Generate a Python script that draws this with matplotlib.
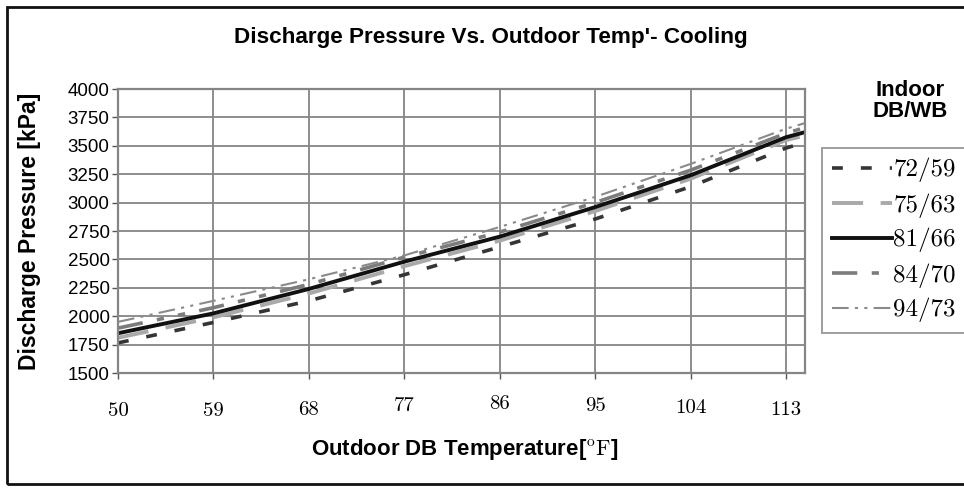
import matplotlib
matplotlib.use("Agg")
import matplotlib.pyplot as plt
from matplotlib.patches import Rectangle

# Outdoor DB temperature [F] and discharge pressure [kPa] per indoor DB/WB condition
temps = [50, 59, 68, 77, 86, 95, 104, 113, 114.8]
p_72_59 = [1765, 1945, 2135, 2365, 2610, 2855, 3140, 3480, 3530]
p_75_63 = [1810, 1990, 2200, 2440, 2665, 2925, 3210, 3550, 3590]
p_81_66 = [1850, 2025, 2240, 2480, 2700, 2960, 3240, 3575, 3620]
p_84_70 = [1895, 2075, 2280, 2520, 2740, 3000, 3285, 3610, 3660]
p_94_73 = [1950, 2135, 2325, 2535, 2785, 3050, 3340, 3650, 3700]

x_ticks = [50, 59, 68, 77, 86, 95, 104, 113]
y_ticks = [1500, 1750, 2000, 2250, 2500, 2750, 3000, 3250, 3500, 3750, 4000]
labels = ["72/59", "75/63", "81/66", "84/70", "94/73"]

plt.rcParams['mathtext.fontset'] = 'cm'
sans = ['Liberation Sans', 'DejaVu Sans']
serif = ['cmr10', 'DejaVu Serif']

W, H = 964, 488
fig = plt.figure(figsize=(W / 100, H / 100), dpi=100)
ax = fig.add_axes([118 / W, 1 - 373 / H, 687 / W, 284 / H])

styles = [
    dict(color='#353535', lw=2.6, dashes=(3.0, 5.0)),
    dict(color='#a9a9a9', lw=2.8, dashes=(8.0, 4.5)),
    dict(color='#111111', lw=2.8, linestyle='-'),
    dict(color='#7c7c7c', lw=2.6, dashes=(7.0, 4.0, 2.0, 4.0, 2.0, 4.0)),
    dict(color='#8a8a8a', lw=1.5, dashes=(8.0, 3.0, 1.5, 3.0, 1.5, 3.0)),
]
series = [p_72_59, p_75_63, p_81_66, p_84_70, p_94_73]
for vals, lab, st in zip(series, labels, styles):
    ax.plot(temps, vals, label=lab, **st)

ax.set_xlim(50, 114.8)
ax.set_ylim(1500, 4000)
ax.set_xticks(x_ticks)
ax.set_xticklabels([str(t) for t in x_ticks], family=serif, fontsize=15)
ax.set_yticks(y_ticks)
ax.set_yticklabels([str(v) for v in y_ticks], family=sans, fontsize=13.5)
ax.grid(True, color='#858585', lw=1.3)
ax.set_axisbelow(True)
for sp in ax.spines.values():
    sp.set_color('#858585')
    sp.set_linewidth(1.6)
ax.tick_params(axis='both', direction='out', length=4, width=1, color='#555555')
ax.tick_params(axis='y', pad=2)

# scanned labels sit slightly staggered
x_pads = [17, 17, 16, 13, 12, 13, 15, 16]
for tk, pd in zip(ax.xaxis.get_major_ticks(), x_pads):
    tk.set_pad(pd)

ax.set_ylabel("Discharge Pressure [kPa]", family=sans, fontsize=16.5,
              fontweight='bold', va='center')
ax.yaxis.set_label_coords((30 - 118) / 687, 0.5)
ax.set_xlabel(r"Outdoor DB Temperature[$^{\mathrm{o}}\mathrm{F}$]", family=sans,
              fontsize=16, fontweight='bold', va='center')
ax.xaxis.set_label_coords((465 - 118) / 687, (373 - 449) / 284)

fig.suptitle("Discharge Pressure Vs. Outdoor Temp'- Cooling", x=491 / W, y=1 - 37 / H,
             va='center', family=sans, fontsize=16.2, fontweight='bold')

fig.text(910 / W, 1 - 101 / H, "Indoor\nDB/WB", ha='center', va='center',
         family=sans, fontsize=16, fontweight='bold', linespacing=1.05)

leg = ax.legend(loc='upper left', bbox_to_anchor=(822 / W, 1 - 148 / H),
                bbox_transform=fig.transFigure, frameon=True, fancybox=False,
                prop={'family': serif, 'size': 18}, handlelength=2.4,
                handletextpad=0.05, labelspacing=0.42, borderpad=0.4,
                borderaxespad=0)
leg.get_frame().set_edgecolor('#858585')
leg.get_frame().set_linewidth(1.4)

# outer frame of the scanned figure
fig.patches.append(Rectangle((7 / W, 1 - 484 / H), 1.05, (484 - 7) / H,
                             transform=fig.transFigure, fill=False,
                             edgecolor='#111111', lw=2.0))

fig.savefig("out.png", dpi=100)
